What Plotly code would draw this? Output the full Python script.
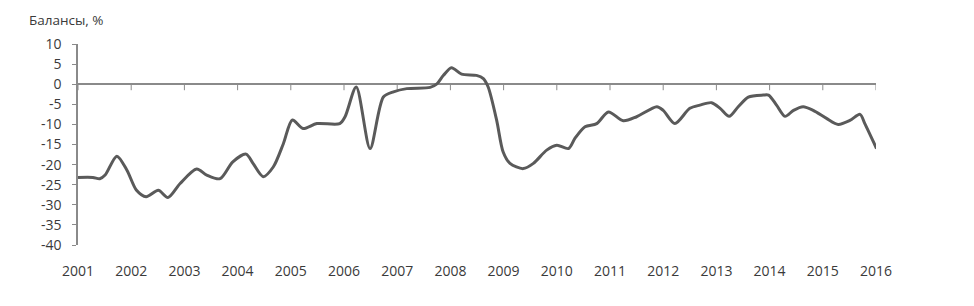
import plotly.graph_objects as go

# Decimal years and balance values (%)
years = [2001.00, 2001.28, 2001.41, 2001.51, 2001.73, 2001.92, 2002.10, 2002.28, 2002.51, 2002.69,
         2002.92, 2003.23, 2003.42, 2003.67, 2003.91, 2004.16, 2004.29, 2004.48, 2004.67, 2004.86,
         2005.03, 2005.23, 2005.49, 2005.92, 2006.02, 2006.23, 2006.49, 2006.74, 2006.93, 2007.18,
         2007.62, 2007.74, 2007.87, 2008.02, 2008.21, 2008.49, 2008.62, 2008.71, 2008.87, 2008.99,
         2009.12, 2009.37, 2009.56, 2009.81, 2010.00, 2010.22, 2010.34, 2010.53, 2010.75, 2010.97,
         2011.25, 2011.50, 2011.88, 2012.00, 2012.22, 2012.50, 2012.69, 2012.91, 2013.07, 2013.24,
         2013.41, 2013.60, 2013.88, 2013.98, 2014.13, 2014.29, 2014.45, 2014.63, 2014.82, 2015.07,
         2015.29, 2015.51, 2015.70, 2015.79, 2016.01]
values = [-23.2, -23.2, -23.5, -22.6, -17.9, -21.4, -26.4, -28.0, -26.4, -28.2,
          -24.7, -21.1, -22.6, -23.5, -19.3, -17.4, -19.7, -23.0, -20.6, -14.8,
          -8.9, -11.0, -9.8, -9.8, -8.1, -0.7, -16.0, -3.2, -1.9, -1.1,
          -0.8, 0.0, 2.2, 4.1, 2.5, 2.2, 1.4, -0.7, -9.0, -16.8,
          -19.7, -21.0, -19.7, -16.4, -15.2, -16.0, -13.5, -10.6, -9.8, -6.9,
          -9.1, -8.1, -5.6, -6.5, -9.8, -6.0, -5.2, -4.6, -6.0, -8.0,
          -5.6, -3.2, -2.7, -2.7, -5.2, -8.0, -6.5, -5.6, -6.5, -8.5,
          -10.0, -9.0, -7.5, -9.8, -16.0]

tick_years = list(range(2001, 2017))
tick_labels = [str(y) for y in tick_years]
y_ticks = list(range(-40, 11, 5))
y_tick_labels = [str(v) for v in y_ticks]
y_title = "Балансы, %"

font_family = "Open Sans, DejaVu Sans, sans-serif"

fig = go.Figure()

# tick marks crossing the zero line
tx, ty = [], []
for yr in tick_years:
    tx += [yr, yr, None]
    ty += [0.3, -1.5, None]
fig.add_trace(go.Scatter(x=tx, y=ty, mode="lines", line=dict(color="#8a8a8a", width=1),
                         hoverinfo="skip", showlegend=False))

fig.add_trace(go.Scatter(x=years, y=values, mode="lines",
                         line=dict(color="#5a5a5a", width=3, shape="spline", smoothing=0.8),
                         showlegend=False, cliponaxis=False))

fig.update_layout(
    width=974, height=306,
    margin=dict(l=70, r=106, t=36, b=69),
    paper_bgcolor="white", plot_bgcolor="white",
    font=dict(family=font_family, size=14, color="#3a3a3a"),
    xaxis=dict(range=[2001, 2016], tickvals=tick_years, ticktext=tick_labels,
               showgrid=False, zeroline=False, showline=False, ticks="",
               ticklabelstandoff=16, tickfont=dict(size=14, color="#3a3a3a")),
    yaxis=dict(range=[-40, 10], tickvals=y_ticks, ticktext=y_tick_labels, showgrid=False,
               zeroline=True, zerolinecolor="#8a8a8a", zerolinewidth=1.5,
               showline=True, linecolor="#8a8a8a", linewidth=1.5,
               ticks="outside", ticklen=4, tickcolor="#8a8a8a",
               ticklabelstandoff=8, tickfont=dict(size=14, color="#3a3a3a")),
    annotations=[dict(text=y_title, xref="paper", yref="paper", x=-0.064, y=1.12,
                      xanchor="left", yanchor="middle", showarrow=False,
                      font=dict(size=13.5, color="#3a3a3a", family=font_family))],
)

fig.write_html("out.html")
